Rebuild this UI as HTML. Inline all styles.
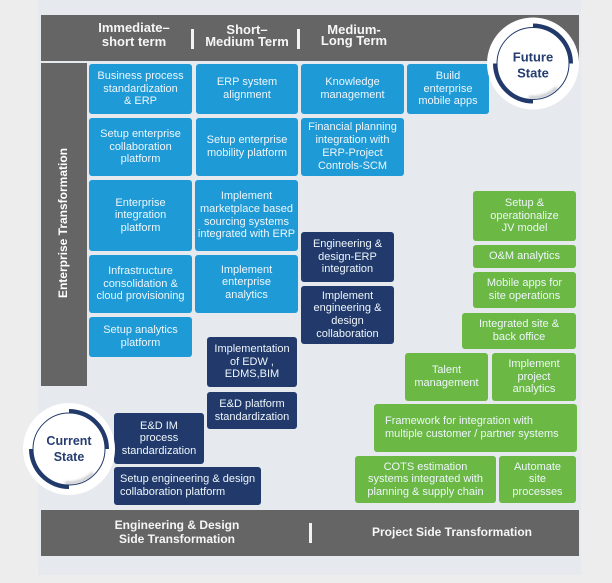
<!DOCTYPE html>
<html><head><meta charset="utf-8"><style>
html,body{margin:0;padding:0}
body{width:612px;height:583px;background:#eeeded;position:relative;overflow:hidden;font-family:"Liberation Sans",sans-serif}
.panel{position:absolute;left:38px;top:0;width:543px;height:575px;background:#e6e9ee}
.band{position:absolute;background:#666565}
.b{position:absolute;display:flex;align-items:center;justify-content:center;text-align:center;color:#eef6fb;font-size:11px;line-height:12.6px;border-radius:3px;box-sizing:border-box}
.bl{background:#1e9ad6}
.nv{background:#213a6b}
.gr{background:#6bb944}
.ht{position:absolute;color:#f6f6f6;font-weight:bold;font-size:13px;text-align:center;transform:translateX(-50%);white-space:nowrap}
.sep{position:absolute;width:2.5px;background:#f2f2f2}
.left{justify-content:flex-start;text-align:left;white-space:nowrap}
</style></head><body>
<div class="panel"></div>
<div class="band" style="left:41px;top:15px;width:538px;height:46px"></div>
<div class="band" style="left:41px;top:63px;width:46px;height:323px"></div>
<div class="band" style="left:41px;top:510px;width:538px;height:46px"></div>

<div class="ht" style="left:134px;top:21px;line-height:14px">Immediate–<br>short term</div>
<div class="sep" style="left:191px;top:29px;height:20px"></div>
<div class="ht" style="left:247px;top:24px;line-height:11.5px">Short–<br>Medium Term</div>
<div class="sep" style="left:297px;top:29px;height:20px"></div>
<div class="ht" style="left:354px;top:25px;line-height:10.5px">Medium-<br>Long Term</div>

<div style="position:absolute;left:63px;top:223px;transform:translate(-50%,-50%) rotate(-90deg);color:#fff;font-weight:bold;font-size:12px;white-space:nowrap">Enterprise Transformation</div>

<div class="ht" style="left:177px;top:518px;font-size:12px;line-height:14px">Engineering &amp; Design<br>Side Transformation</div>
<div class="sep" style="left:309px;top:523px;height:20px"></div>
<div class="ht" style="left:452px;top:525px;font-size:12px;line-height:14px">Project Side Transformation</div>

<!-- blue -->
<div class="b bl" style="left:89px;top:64px;width:103px;height:50px">Business process<br>standardization<br>&amp; ERP</div>
<div class="b bl" style="left:196px;top:64px;width:102px;height:50px">ERP system<br>alignment</div>
<div class="b bl" style="left:301px;top:64px;width:103px;height:50px">Knowledge<br>management</div>
<div class="b bl" style="left:407px;top:64px;width:82px;height:50px">Build<br>enterprise<br>mobile apps</div>
<div class="b bl" style="left:89px;top:118px;width:103px;height:58px">Setup enterprise<br>collaboration<br>platform</div>
<div class="b bl" style="left:196px;top:118px;width:102px;height:58px">Setup enterprise<br>mobility platform</div>
<div class="b bl" style="left:301px;top:118px;width:103px;height:58px;line-height:12.8px">Financial planning<br>integration with<br>ERP-Project<br>Controls-SCM</div>
<div class="b bl" style="left:89px;top:180px;width:103px;height:71px">Enterprise<br>integration<br>platform</div>
<div class="b bl" style="left:195px;top:180px;width:103px;height:71px;white-space:nowrap">Implement<br>marketplace based<br>sourcing systems<br>integrated with ERP</div>
<div class="b bl" style="left:89px;top:255px;width:103px;height:58px;white-space:nowrap">Infrastructure<br>consolidation &amp;<br>cloud provisioning</div>
<div class="b bl" style="left:195px;top:255px;width:103px;height:58px;padding-bottom:3px">Implement<br>enterprise<br>analytics</div>
<div class="b bl" style="left:89px;top:317px;width:103px;height:40px">Setup analytics<br>platform</div>

<!-- navy -->
<div class="b nv" style="left:301px;top:232px;width:93px;height:50px">Engineering &amp;<br>design-ERP<br>integration</div>
<div class="b nv" style="left:301px;top:286px;width:93px;height:58px">Implement<br>engineering &amp;<br>design<br>collaboration</div>
<div class="b nv" style="left:207px;top:337px;width:90px;height:50px">Implementation<br>of EDW ,<br>EDMS,BIM</div>
<div class="b nv" style="left:207px;top:392px;width:90px;height:37px">E&amp;D platform<br>standardization</div>
<div class="b nv" style="left:114px;top:413px;width:90px;height:51px">E&amp;D IM<br>process<br>standardization</div>
<div class="b nv left" style="left:114px;top:467px;width:147px;height:38px;padding-left:6px">Setup engineering &amp; design<br>collaboration platform</div>

<!-- green -->
<div class="b gr" style="left:473px;top:191px;width:103px;height:50px">Setup &amp;<br>operationalize<br>JV model</div>
<div class="b gr" style="left:473px;top:245px;width:103px;height:23px">O&amp;M analytics</div>
<div class="b gr" style="left:473px;top:272px;width:103px;height:36px">Mobile apps for<br>site operations</div>
<div class="b gr" style="left:462px;top:313px;width:114px;height:36px">Integrated site &amp;<br>back office</div>
<div class="b gr" style="left:405px;top:353px;width:83px;height:48px">Talent<br>management</div>
<div class="b gr" style="left:492px;top:353px;width:84px;height:48px">Implement<br>project<br>analytics</div>
<div class="b gr left" style="left:374px;top:404px;width:203px;height:48px;padding-left:11px">Framework for integration with<br>multiple customer / partner systems</div>
<div class="b gr" style="left:355px;top:456px;width:141px;height:47px;white-space:nowrap">COTS estimation<br>systems integrated with<br>planning &amp; supply chain</div>
<div class="b gr" style="left:499px;top:456px;width:77px;height:47px">Automate<br>site<br>processes</div>

<svg width="612" height="583" style="position:absolute;left:0;top:0" xmlns="http://www.w3.org/2000/svg">
<defs><filter id="bl" x="-20%" y="-20%" width="140%" height="140%"><feGaussianBlur stdDeviation="1.2"/></filter></defs>
<g transform="translate(533,63.5)">
<circle r="46" fill="#ffffff"/>
<path d="M 24 24 A 34 34 0 0 1 -4 33.8" fill="none" stroke="#c4c6cb" stroke-width="3" filter="url(#bl)"/>
<circle r="36" fill="none" stroke="#213a6b" stroke-width="1"/>
<path d="M 0 -38 A 38 38 0 0 1 38 0" fill="none" stroke="#213a6b" stroke-width="4"/>
<path d="M -38 0 A 38 38 0 0 0 0 38" fill="none" stroke="#213a6b" stroke-width="4"/>
<text x="0" y="-2" text-anchor="middle" font-family="Liberation Sans, sans-serif" font-weight="bold" font-size="13" fill="#253d70">Future</text>
<text x="0" y="14" text-anchor="middle" font-family="Liberation Sans, sans-serif" font-weight="bold" font-size="13" fill="#253d70">State</text>
</g>
<g transform="translate(69,449)">
<circle r="46" fill="#ffffff"/>
<path d="M 24 24 A 34 34 0 0 1 -4 33.8" fill="none" stroke="#c4c6cb" stroke-width="3" filter="url(#bl)"/>
<circle r="36" fill="none" stroke="#213a6b" stroke-width="1"/>
<path d="M 0 -38 A 38 38 0 0 1 38 0" fill="none" stroke="#213a6b" stroke-width="4"/>
<path d="M -38 0 A 38 38 0 0 0 0 38" fill="none" stroke="#213a6b" stroke-width="4"/>
<text x="0" y="-4" text-anchor="middle" font-family="Liberation Sans, sans-serif" font-weight="bold" font-size="12.5" fill="#253d70">Current</text>
<text x="0" y="12" text-anchor="middle" font-family="Liberation Sans, sans-serif" font-weight="bold" font-size="12.5" fill="#253d70">State</text>
</g>
</svg>
</body></html>
